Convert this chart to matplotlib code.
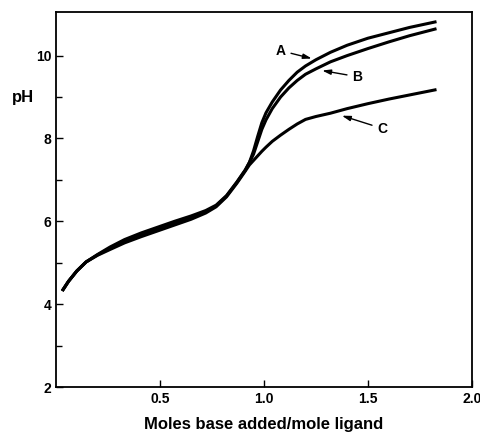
import numpy as np
import matplotlib.pyplot as plt

plt.rcParams['font.family'] = ['Liberation Sans', 'DejaVu Sans']
plt.rcParams['font.weight'] = 'bold'

x = np.array([0.03, 0.06, 0.10, 0.145, 0.20, 0.26, 0.33, 0.41, 0.49, 0.57, 0.65, 0.72,
              0.77, 0.82, 0.87, 0.91, 0.93, 0.95, 0.97, 0.99, 1.01, 1.04, 1.08, 1.12,
              1.16, 1.20, 1.25, 1.32, 1.40, 1.50, 1.60, 1.70, 1.83])
ph_A = np.array([4.32, 4.55, 4.80, 5.02, 5.20, 5.38, 5.56, 5.72, 5.86, 6.00, 6.13, 6.26,
                 6.39, 6.62, 6.95, 7.24, 7.42, 7.70, 8.05, 8.38, 8.62, 8.88, 9.17, 9.40,
                 9.60, 9.75, 9.90, 10.08, 10.25, 10.42, 10.55, 10.68, 10.82])
ph_B = np.array([4.32, 4.55, 4.80, 5.02, 5.19, 5.35, 5.52, 5.68, 5.82, 5.96, 6.09, 6.23,
                 6.37, 6.61, 6.94, 7.23, 7.42, 7.62, 7.92, 8.22, 8.45, 8.72, 9.00, 9.22,
                 9.40, 9.55, 9.68, 9.85, 10.00, 10.17, 10.33, 10.48, 10.65])
ph_C = np.array([4.32, 4.55, 4.80, 5.02, 5.18, 5.32, 5.48, 5.63, 5.77, 5.91, 6.05, 6.20,
                 6.35, 6.59, 6.92, 7.21, 7.36, 7.47, 7.58, 7.69, 7.79, 7.93, 8.08, 8.22,
                 8.35, 8.46, 8.53, 8.61, 8.72, 8.84, 8.95, 9.05, 9.18])

labels = ['A', 'B', 'C']
label_xy = [(1.08, 10.12), (1.45, 9.49), (1.57, 8.24)]
tip_xy = [(1.23, 9.93), (1.28, 9.64), (1.375, 8.55)]

fig = plt.figure(figsize=(4.81, 4.33), dpi=100)
ax = fig.add_axes([0.1164, 0.1062, 0.8646, 0.8658])

for ph in (ph_A, ph_B, ph_C):
    ax.plot(x, ph, color='black', lw=2.2, solid_capstyle='butt')

for lab, txy, pxy in zip(labels, label_xy, tip_xy):
    ax.annotate(lab, xy=pxy, xytext=txy, fontsize=10, fontweight='bold',
                ha='center', va='center',
                arrowprops=dict(arrowstyle='-|>,head_length=0.5,head_width=0.15',
                                color='black', lw=1.0, shrinkA=2, shrinkB=0))

ax.set_xlim(0, 2.0)
ax.set_ylim(2, 11.05)
ax.set_xticks([0.5, 1.0, 1.5, 2.0])
ax.set_xticklabels(['0.5', '1.0', '1.5', '2.0'])
ax.set_yticks([2, 4, 6, 8, 10])
ax.set_yticks([3, 5, 7, 9], minor=True)
ax.tick_params(direction='in', length=5, width=1.0, labelsize=10)
ax.tick_params(which='minor', direction='in', length=4, width=1.0)
for s in ax.spines.values():
    s.set_linewidth(1.3)

ax.set_xlabel('Moles base added/mole ligand', fontsize=12, fontweight='bold')
ax.xaxis.set_label_coords(0.5, -0.08)
ax.set_ylabel('pH', fontsize=12, fontweight='bold', rotation=0, va='center')
ax.yaxis.set_label_coords(-0.08, 0.773)

plt.savefig('out.png', dpi=100)
